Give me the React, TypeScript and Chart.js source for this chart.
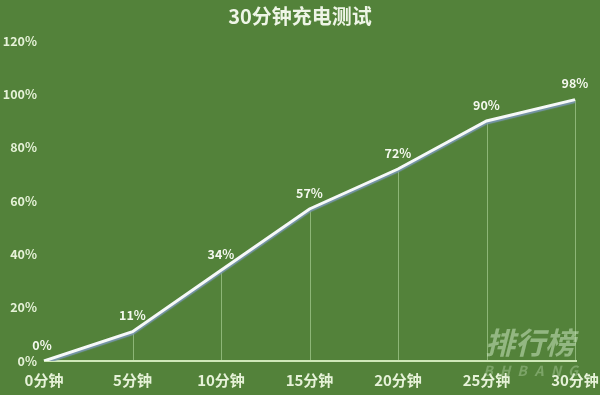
import React, { useEffect, useRef } from "react";
import { Chart, registerables } from "chart.js";

Chart.register(...registerables);

const titleText = "30分钟充电测试";
const categories = ["0分钟", "5分钟", "10分钟", "15分钟", "20分钟", "25分钟", "30分钟"];
const values = [0, 11, 34, 57, 72, 90, 98];
const yMax = 120;
const yStep = 20;

const BG = "#53823a";
const FONT = "'Noto Sans CJK SC', 'Noto Sans', sans-serif";

const decorPlugin = {
  id: "decor",
  beforeDraw(chart: any) {
    const { ctx, width, height } = chart;
    ctx.save();
    ctx.fillStyle = BG;
    ctx.fillRect(0, 0, width, height);
    ctx.restore();
  },
  beforeDatasetsDraw(chart: any) {
    const { ctx } = chart;
    const meta = chart.getDatasetMeta(0);
    const yScale = chart.scales.y;
    const base = yScale.getPixelForValue(0);
    ctx.save();
    ctx.strokeStyle = "rgba(190,225,170,0.55)";
    ctx.lineWidth = 1;
    meta.data.forEach((pt: any, i: number) => {
      if (i === 0) return;
      ctx.beginPath();
      ctx.moveTo(Math.round(pt.x) + 0.5, pt.y);
      ctx.lineTo(Math.round(pt.x) + 0.5, base);
      ctx.stroke();
    });
    ctx.strokeStyle = "#cfe8b8";
    ctx.lineWidth = 2;
    ctx.beginPath();
    ctx.moveTo(chart.chartArea.left, base);
    ctx.lineTo(chart.chartArea.right + 2, base);
    ctx.stroke();
    ctx.restore();
  },
  beforeDatasetDraw(chart: any) {
    const { ctx } = chart;
    ctx.save();
    ctx.shadowColor = "rgba(120,150,175,0.95)";
    ctx.shadowOffsetY = 2;
    ctx.shadowOffsetX = 0;
    ctx.shadowBlur = 1;
  },
  afterDatasetDraw(chart: any) {
    chart.ctx.restore();
  },
  afterDatasetsDraw(chart: any) {
    const { ctx } = chart;
    const meta = chart.getDatasetMeta(0);
    ctx.save();
    ctx.fillStyle = "#f4f8ee";
    ctx.font = `bold 12.5px ${FONT}`;
    ctx.textAlign = "center";
    ctx.textBaseline = "middle";
    meta.data.forEach((pt: any, i: number) => {
      const dx = i === 0 ? -2 : 0;
      ctx.fillText(values[i] + "%", pt.x + dx, pt.y - 16);
    });
    ctx.font = `bold 20px ${FONT}`;
    ctx.fillStyle = "#eef5e6";
    ctx.fillText(titleText, chart.width / 2, 16);
    ctx.fillStyle = "rgba(200,228,190,0.55)";
    ctx.font = `italic bold 30px ${FONT}`;
    ctx.fillText("排行榜", 530, 343);
    ctx.font = `italic bold 14px ${FONT}`;
    ctx.fillStyle = "rgba(200,228,190,0.35)";
    const letters = "BHBANG";
    letters.split("").forEach((c, i) => ctx.fillText(c, 488 + i * 17, 371));
    ctx.restore();
  },
};

export default function App() {
  const ref = useRef<HTMLCanvasElement | null>(null);
  useEffect(() => {
    document.body.style.margin = "0";
    const chart = new Chart(ref.current as HTMLCanvasElement, {
      type: "line",
      data: {
        labels: categories,
        datasets: [
          {
            data: values,
            borderColor: "#f6f9f8",
            borderWidth: 3,
            pointRadius: 0,
            tension: 0,
            fill: false,
          },
        ],
      },
      options: {
        responsive: false,
        animation: false,
        layout: { padding: { top: 41, right: 25, left: 0, bottom: 0 } },
        plugins: { legend: { display: false }, tooltip: { enabled: false } },
        scales: {
          x: {
            offset: false,
            grid: { display: false, drawTicks: false },
            border: { display: false },
            ticks: {
              color: "#e6f2d8",
              font: { family: FONT, weight: "bold", size: 15 },
              padding: 10,
              maxRotation: 0,
              autoSkip: false,
            },
            afterFit(scale: any) {
              scale.height = 34;
              scale.paddingLeft = 0;
              scale.paddingRight = 0;
            },
          },
          y: {
            min: 0,
            max: yMax,
            grid: { display: false, drawTicks: false },
            border: { display: false },
            ticks: {
              stepSize: yStep,
              color: "#e6f2d8",
              font: { family: FONT, weight: "bold", size: 12.5 },
              padding: 7,
              callback: (v: any) => v + "%",
            },
            afterFit(scale: any) {
              scale.width = 44;
              scale.paddingTop = 0;
              scale.paddingBottom = 0;
            },
          },
        },
      },
      plugins: [decorPlugin],
    });
    return () => chart.destroy();
  }, []);
  return (
    <div style={{ position: "fixed", left: 0, top: 0, width: 600, height: 395, background: BG }}>
      <canvas ref={ref} width={600} height={395} style={{ display: "block" }} />
    </div>
  );
}
